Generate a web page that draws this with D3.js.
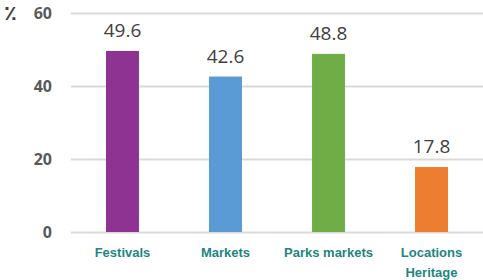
<!DOCTYPE html>
<html>
<head>
<meta charset="utf-8">
<script src="https://cdn.jsdelivr.net/npm/d3@7"></script>
<style>
  body { margin: 0; background: #fff; }
  svg { display: block; font-family: "Open Sans", "Liberation Sans", sans-serif; }
</style>
</head>
<body>
<div id="root"></div>
<script>
const categories = [["Festivals"], ["Markets"], ["Parks markets"], ["Locations", "Heritage"]];
const values = [49.6, 42.6, 48.8, 17.8];
const barColors = ["#8e3391", "#5b9bd5", "#70ad47", "#ed7d31"];
const yTicks = [0, 20, 40, 60];

const width = 483, height = 280;
const plotLeft = 71, plotRight = 483, plotTop = 13, plotBottom = 232;

const svg = d3.select("#root").append("svg")
  .attr("width", width)
  .attr("height", height);

const x = d3.scaleBand()
  .domain(d3.range(values.length))
  .range([plotLeft, plotRight])
  .paddingInner(0.68)
  .paddingOuter(0.34);

const y = d3.scaleLinear().domain([0, 60]).range([plotBottom, plotTop]);

// gridlines + y labels
const yAxis = svg.append("g")
  .attr("transform", `translate(${plotLeft},0)`)
  .call(d3.axisLeft(y).tickValues(yTicks).tickSize(-(plotRight - plotLeft)).tickPadding(19));
yAxis.select(".domain").remove();
yAxis.selectAll(".tick line").attr("stroke", "#d9d9d9").attr("stroke-width", 2);
yAxis.selectAll(".tick text")
  .attr("fill", "#595959")
  .attr("font-size", 16)
  .attr("font-weight", "bold")
  .attr("font-family", "Open Sans, sans-serif");

svg.append("text")
  .attr("x", 4).attr("y", y(60) + 7)
  .attr("fill", "#404040")
  .attr("font-size", 21)
  .attr("font-weight", "bold")
  .attr("font-family", "DejaVu Sans, sans-serif")
  .text("٪");

// bars
svg.selectAll(".bar")
  .data(values)
  .enter()
  .append("rect")
  .attr("class", "bar")
  .attr("x", (d, i) => x(i))
  .attr("y", d => y(d))
  .attr("width", x.bandwidth())
  .attr("height", d => y(0) - y(d))
  .attr("fill", (d, i) => barColors[i]);

// value labels
svg.selectAll(".val")
  .data(values)
  .enter()
  .append("text")
  .attr("class", "val")
  .attr("x", (d, i) => x(i) + x.bandwidth() / 2)
  .attr("y", d => y(d) - 14)
  .attr("text-anchor", "middle")
  .attr("fill", "#404040")
  .attr("font-size", 19)
  .text(d => d.toFixed(1));

// category labels
const cat = svg.selectAll(".cat")
  .data(categories)
  .enter()
  .append("text")
  .attr("class", "cat")
  .attr("x", (d, i) => x(i) + x.bandwidth() / 2)
  .attr("y", plotBottom + 25)
  .attr("text-anchor", "middle")
  .attr("fill", "#1e8580")
  .attr("font-size", 13)
  .attr("font-weight", "bold")
  .attr("font-family", "Liberation Sans, Arial, sans-serif");
cat.selectAll("tspan")
  .data(d => d)
  .enter()
  .append("tspan")
  .attr("x", function() { return this.parentNode.getAttribute("x"); })
  .attr("dy", (d, i) => i === 0 ? 0 : 20)
  .text(d => d);
</script>
</body>
</html>
